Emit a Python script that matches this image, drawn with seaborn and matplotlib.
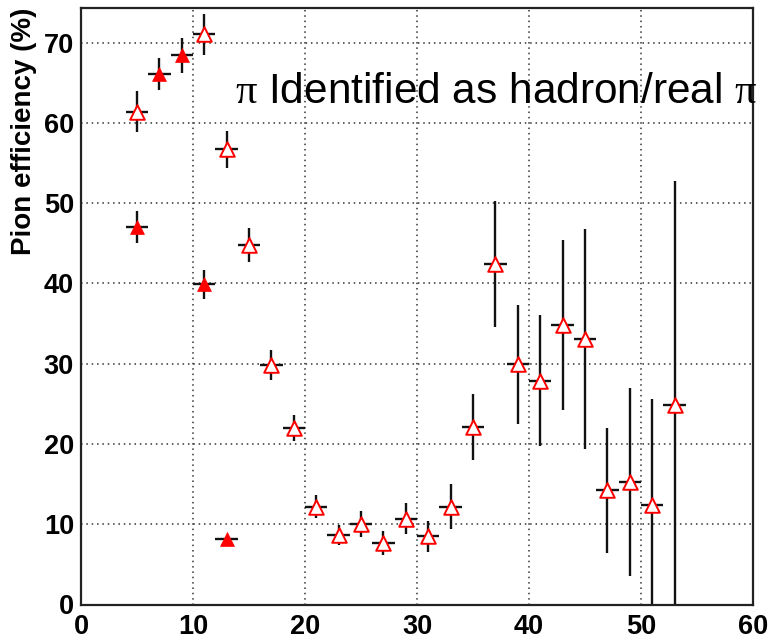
import matplotlib
matplotlib.use("Agg")
import matplotlib.pyplot as plt
import seaborn as sns
import pandas as pd
from matplotlib.ticker import MultipleLocator

# ---- data ----
x_open = [5, 11, 13, 15, 17, 19, 21, 23, 25, 27, 29, 31, 33, 35, 37, 39, 41, 43, 45, 47, 49, 51, 53]
y_open = [61.4, 71.0, 56.7, 44.8, 29.8, 22.0, 12.2, 8.6, 10.0, 7.7, 10.7, 8.5, 12.2, 22.1,
          42.4, 29.9, 27.9, 34.8, 33.1, 14.2, 15.3, 12.4, 24.8]
err_open = [2.5, 2.5, 2.3, 2.1, 1.85, 1.6, 1.4, 1.25, 1.6, 1.5, 1.9, 1.95, 2.8, 4.15,
            7.8, 7.4, 8.1, 10.6, 13.7, 7.8, 11.7, 13.2, 28.0]

x_filled = [5, 7, 9, 11, 13]
y_filled = [47.0, 66.1, 68.4, 39.9, 8.1]
err_filled = [2.0, 2.0, 2.2, 1.8, 0.3]

bin_half_width = 1.0
x_ticks = [0, 10, 20, 30, 40, 50, 60]
y_ticks = [0, 10, 20, 30, 40, 50, 60, 70]
ylabel = "Pion efficiency (%)"
annotation = r"$\mathrm{\pi}$ Identified as hadron/real $\mathrm{\pi}$"

df_open = pd.DataFrame({"x": x_open, "y": y_open, "err": err_open})
df_filled = pd.DataFrame({"x": x_filled, "y": y_filled, "err": err_filled})

sns.set_style("white")
plt.rcParams["font.family"] = ["Liberation Sans", "DejaVu Sans"]
plt.rcParams["mathtext.fontset"] = "custom"
plt.rcParams["mathtext.rm"] = "Liberation Serif"
plt.rcParams["mathtext.it"] = "Liberation Serif:italic"
plt.rcParams["text.color"] = "black"
plt.rcParams["axes.labelcolor"] = "black"
plt.rcParams["xtick.color"] = "black"
plt.rcParams["ytick.color"] = "black"

W, H = 770, 639
fig = plt.figure(figsize=(W / 100, H / 100), dpi=100)
left, right, top, bottom = 81, 753, 8, 604.5
ax = fig.add_axes([left / W, (H - bottom) / H, (right - left) / W, (bottom - top) / H])

ax.set_xlim(0, 60)
ax.set_ylim(0, 74.3)

# grid
ax.grid(True, which="major", linestyle=(0, (1, 2.5)), color="#333333", linewidth=1.1)
ax.set_axisbelow(True)

# error bars
for d in (df_open, df_filled):
    ax.errorbar(d["x"], d["y"], xerr=bin_half_width, yerr=d["err"], fmt="none",
                ecolor="#111111", elinewidth=1.7, capsize=0, zorder=2, clip_on=True)

# markers
sns.scatterplot(data=df_open, x="x", y="y", marker="^", s=110, facecolor="white",
                edgecolor="#ff0000", linewidth=1.4, ax=ax, zorder=3, legend=False)
sns.scatterplot(data=df_filled, x="x", y="y", marker="^", s=100, color="#ff0000",
                edgecolor="#ff0000", linewidth=0.5, ax=ax, zorder=3, legend=False)

# ticks
ax.set_xticks(x_ticks)
ax.set_yticks(y_ticks)
ax.xaxis.set_minor_locator(MultipleLocator(2))
ax.yaxis.set_minor_locator(MultipleLocator(2))
ax.tick_params(which="both", direction="in", top=False, right=False, color="#222222", width=1.6)
ax.tick_params(which="major", length=14)
ax.tick_params(which="minor", length=7)
ax.tick_params(axis="x", which="major", pad=7)
ax.tick_params(axis="y", which="major", pad=5)
for lab in ax.get_xticklabels() + ax.get_yticklabels():
    lab.set_fontweight("bold")
    lab.set_fontsize(19.5)
    lab.set_color("black")

for sp in ax.spines.values():
    sp.set_linewidth(1.6)
    sp.set_color("#222222")
    sp.set_visible(True)

ax.set_xlabel("")
ax.set_ylabel(ylabel, loc="top", fontsize=20, fontweight="bold", color="black")
ax.yaxis.set_label_coords(-0.066, 1.0)

ax.text(13.75, 62.5, annotation, fontsize=30.5, va="baseline", ha="left",
        color="black", clip_on=False)

fig.savefig("out.png", dpi=100, facecolor="white")
